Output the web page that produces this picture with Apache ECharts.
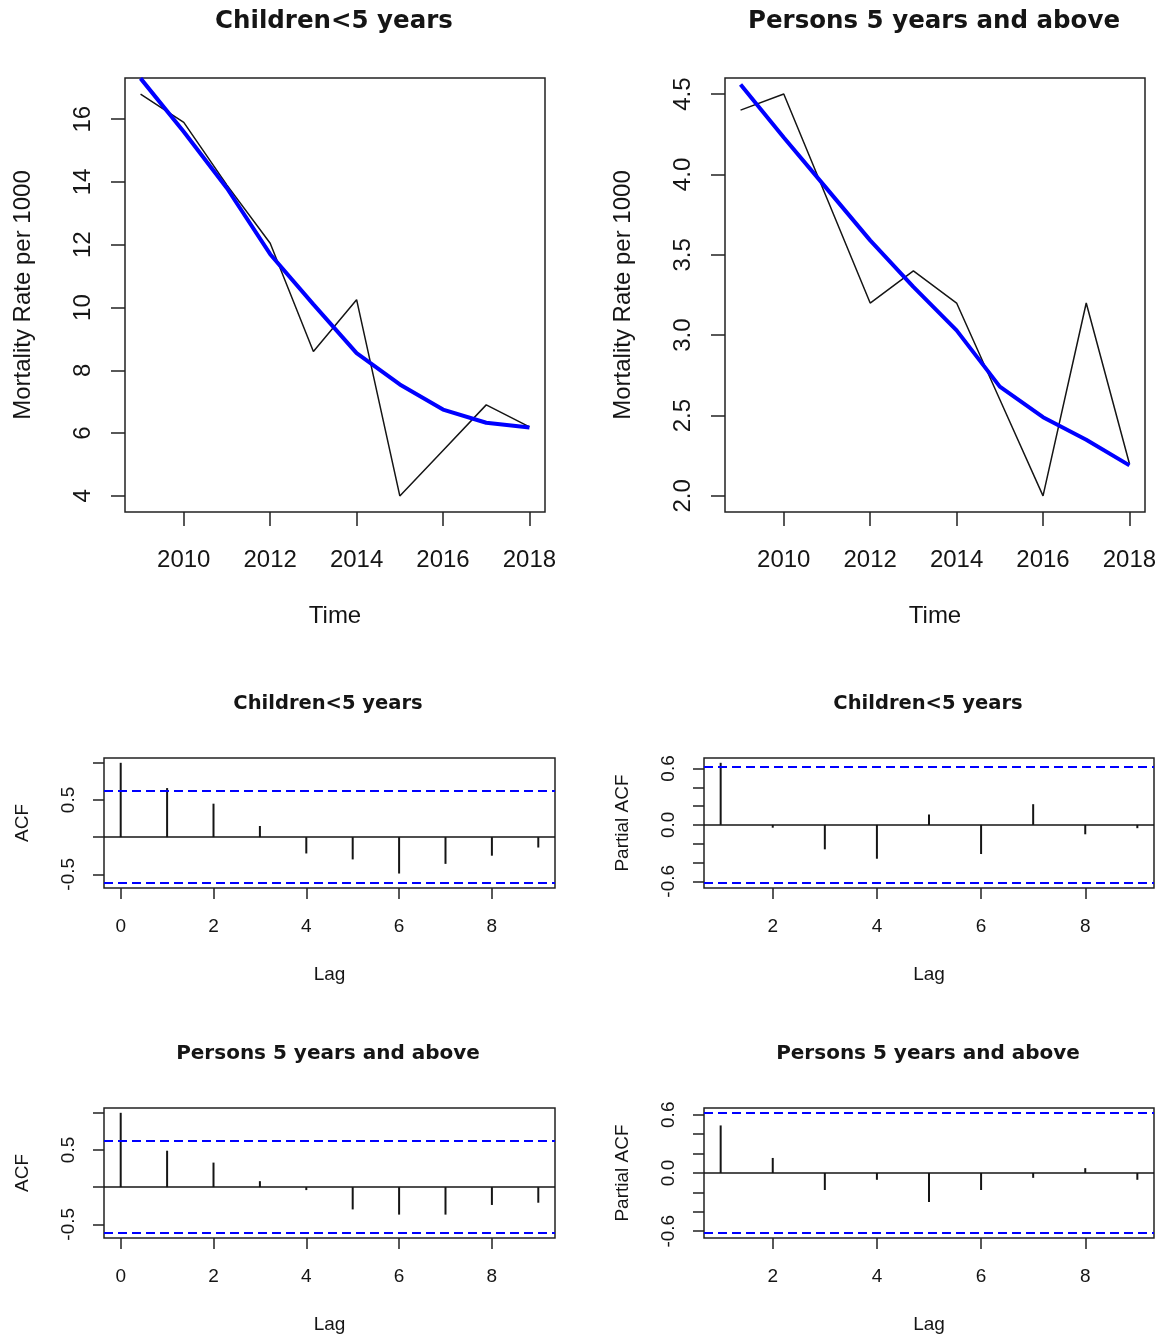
<!DOCTYPE html>
<html>
<head>
<meta charset="utf-8">
<script src="https://cdn.jsdelivr.net/npm/echarts@6/dist/echarts.min.js"></script>
<style>
  html, body { margin: 0; padding: 0; background: #ffffff; }
  #chart { width: 1160px; height: 1336px; }
</style>
</head>
<body>
<div id="chart"></div>
<script>
// ---- data -------------------------------------------------------------
const years = [2009, 2010, 2011, 2012, 2013, 2014, 2015, 2016, 2017, 2018];

// Mortality rate per 1000 (observed) and smoothed trend
const childrenRate  = [16.8, 15.9, 13.9, 12.05, 8.6, 10.25, 4.0, 5.45, 6.9, 6.2];
const childrenTrend = [17.3, 15.6, 13.8, 11.7, 10.1, 8.55, 7.55, 6.75, 6.33, 6.18];
const personsRate   = [4.4, 4.5, 3.85, 3.2, 3.4, 3.2, 2.6, 2.0, 3.2, 2.2];
const personsTrend  = [4.56, 4.23, 3.91, 3.59, 3.30, 3.03, 2.68, 2.49, 2.35, 2.19];

// Autocorrelation / partial autocorrelation
const acfLags  = [0, 1, 2, 3, 4, 5, 6, 7, 8, 9];
const pacfLags = [1, 2, 3, 4, 5, 6, 7, 8, 9];
const childrenAcf  = [1.0, 0.66, 0.45, 0.15, -0.22, -0.30, -0.49, -0.36, -0.25, -0.14];
const childrenPacf = [0.66, -0.03, -0.26, -0.36, 0.11, -0.31, 0.22, -0.10, -0.035];
const personsAcf   = [1.0, 0.49, 0.33, 0.08, -0.04, -0.30, -0.37, -0.37, -0.24, -0.21];
const personsPacf  = [0.49, 0.155, -0.175, -0.07, -0.30, -0.175, -0.05, 0.05, -0.07];
const confBound = 0.62;

// Tick positions and labels
const yearTicks          = [2010, 2012, 2014, 2016, 2018];
const childrenRateTicks  = [4, 6, 8, 10, 12, 14, 16];
const personsRateTicks   = [2.0, 2.5, 3.0, 3.5, 4.0, 4.5];
const acfValueTicks      = [-0.5, 0, 0.5, 1.0];
const acfValueLabels     = [-0.5, 0.5];
const pacfValueTicks     = [-0.6, -0.4, -0.2, 0, 0.2, 0.4, 0.6];
const pacfValueLabels    = [-0.6, 0, 0.6];
const acfLagTicks        = [0, 2, 4, 6, 8];
const pacfLagTicks       = [2, 4, 6, 8];

// ---- helpers ----------------------------------------------------------
const SANS  = "'Liberation Sans', Arial, sans-serif";
const TITLE = "'DejaVu Sans', Verdana, sans-serif";
const INK   = '#151515';
const BOX   = '#222222';

// plot range padded by 4% on each side
function padded(values) {
  const lo = Math.min(...values), hi = Math.max(...values);
  const d = (hi - lo) * 0.04;
  return [lo - d, hi + d];
}

function axis(gridIndex, range, ticks, labels, fmt, o) {
  return {
    type: 'value', gridIndex, min: range[0], max: range[1],
    axisLine: { show: false, onZero: false },
    axisTick: { show: true, inside: false, length: o.tick, customValues: ticks,
                lineStyle: { color: BOX, width: 1.5 } },
    axisLabel: { show: true, customValues: labels, formatter: fmt, rotate: o.rotate || 0,
                 fontSize: o.size, fontFamily: SANS, color: INK, margin: o.margin },
    splitLine: { show: false },
    name: o.name, nameLocation: 'middle', nameGap: o.nameGap,
    nameTextStyle: { fontSize: o.nameSize, fontFamily: SANS, color: INK }
  };
}

const fmtInt = v => String(Math.round(v));
const fmt1 = v => (Math.abs(v) < 1e-9 ? 0 : v).toFixed(1);

function spike(params, api) {
  const lag = api.value(0), v = api.value(1);
  const base = api.coord([lag, 0]);
  const tip = api.coord([lag, v]);
  return { type: 'line', shape: { x1: base[0], y1: base[1], x2: tip[0], y2: tip[1] },
           style: { stroke: INK, lineWidth: 2 } };
}

function spikeSeries(idx, lags, vals) {
  const dash = { color: '#0000ff', width: 2, type: [9, 5] };
  return {
    type: 'custom', xAxisIndex: idx, yAxisIndex: idx, renderItem: spike,
    encode: { x: 0, y: 1 }, silent: true,
    data: lags.map((l, i) => [l, vals[i]]),
    markLine: {
      silent: true, symbol: ['none', 'none'], label: { show: false }, animation: false,
      data: [
        { yAxis: 0, lineStyle: { color: INK, width: 1.5, type: 'solid' } },
        { yAxis: confBound, lineStyle: dash },
        { yAxis: -confBound, lineStyle: dash }
      ]
    }
  };
}

function lineSeries(idx, ys, color, width) {
  return {
    type: 'line', xAxisIndex: idx, yAxisIndex: idx, symbol: 'none', silent: true,
    data: years.map((y, i) => [y, ys[i]]),
    lineStyle: { color, width }
  };
}

// ---- layout -----------------------------------------------------------
const gridBox = { show: true, borderColor: BOX, borderWidth: 1.5, backgroundColor: 'transparent' };
const grids = [
  { left: 125, top: 78,   width: 420, height: 434 },
  { left: 725, top: 78,   width: 420, height: 434 },
  { left: 104, top: 758,  width: 451, height: 130 },
  { left: 704, top: 758,  width: 450, height: 130 },
  { left: 104, top: 1108, width: 451, height: 130 },
  { left: 704, top: 1108, width: 450, height: 130 }
].map(g => Object.assign({}, gridBox, g));

const yearRange = padded(years);
const acfX  = padded(acfLags);
const pacfX = padded(pacfLags);

const big   = { tick: 14, size: 24, margin: 36, nameSize: 24 };
const small = { tick: 11, size: 19, margin: 29, nameSize: 19 };

const xAxes = [
  axis(0, yearRange, yearTicks, yearTicks, fmtInt, Object.assign({ name: 'Time', nameGap: 92 }, big)),
  axis(1, yearRange, yearTicks, yearTicks, fmtInt, Object.assign({ name: 'Time', nameGap: 92 }, big)),
  axis(2, acfX,  acfLagTicks,  acfLagTicks,  fmtInt, Object.assign({ name: 'Lag', nameGap: 77 }, small)),
  axis(3, pacfX, pacfLagTicks, pacfLagTicks, fmtInt, Object.assign({ name: 'Lag', nameGap: 77 }, small)),
  axis(4, acfX,  acfLagTicks,  acfLagTicks,  fmtInt, Object.assign({ name: 'Lag', nameGap: 77 }, small)),
  axis(5, pacfX, pacfLagTicks, pacfLagTicks, fmtInt, Object.assign({ name: 'Lag', nameGap: 77 }, small))
];

const yAxes = [
  axis(0, padded(childrenRate), childrenRateTicks, childrenRateTicks, fmtInt,
       Object.assign({}, big, { name: 'Mortality Rate per 1000', nameGap: 90, rotate: 90, margin: 30 })),
  axis(1, padded(personsRate), personsRateTicks, personsRateTicks, fmt1,
       Object.assign({}, big, { name: 'Mortality Rate per 1000', nameGap: 90, rotate: 90, margin: 30 })),
  axis(2, padded(childrenAcf.concat([confBound, -confBound])), acfValueTicks, acfValueLabels, fmt1,
       Object.assign({}, small, { name: 'ACF', nameGap: 72, rotate: 90, margin: 26 })),
  axis(3, padded(childrenPacf.concat([confBound, -confBound])), pacfValueTicks, pacfValueLabels, fmt1,
       Object.assign({}, small, { name: 'Partial ACF', nameGap: 72, rotate: 90, margin: 26 })),
  axis(4, padded(personsAcf.concat([confBound, -confBound])), acfValueTicks, acfValueLabels, fmt1,
       Object.assign({}, small, { name: 'ACF', nameGap: 72, rotate: 90, margin: 26 })),
  axis(5, padded(personsPacf.concat([confBound, -confBound])), pacfValueTicks, pacfValueLabels, fmt1,
       Object.assign({}, small, { name: 'Partial ACF', nameGap: 72, rotate: 90, margin: 26 }))
];

function heading(text, x, y, size) {
  return { type: 'text', x, y, silent: true,
           style: { text, fill: INK, font: 'bold ' + size + 'px ' + TITLE,
                    align: 'center', verticalAlign: 'middle',
                    textAlign: 'center', textVerticalAlign: 'middle' } };
}

const option = {
  animation: false,
  backgroundColor: '#ffffff',
  grid: grids,
  xAxis: xAxes,
  yAxis: yAxes,
  graphic: [
    heading('Children<5 years', 334, 22, 24.5),
    heading('Persons 5 years and above', 934, 22, 24.5),
    heading('Children<5 years', 328, 704, 19.5),
    heading('Children<5 years', 928, 704, 19.5),
    heading('Persons 5 years and above', 328, 1054, 20),
    heading('Persons 5 years and above', 928, 1054, 20)
  ],
  series: [
    lineSeries(0, childrenRate, INK, 1.5),
    lineSeries(0, childrenTrend, '#0000ff', 4),
    lineSeries(1, personsRate, INK, 1.5),
    lineSeries(1, personsTrend, '#0000ff', 4),
    spikeSeries(2, acfLags, childrenAcf),
    spikeSeries(3, pacfLags, childrenPacf),
    spikeSeries(4, acfLags, personsAcf),
    spikeSeries(5, pacfLags, personsPacf)
  ]
};

echarts.init(document.getElementById('chart'), null, { renderer: 'canvas' }).setOption(option);
</script>
</body>
</html>
